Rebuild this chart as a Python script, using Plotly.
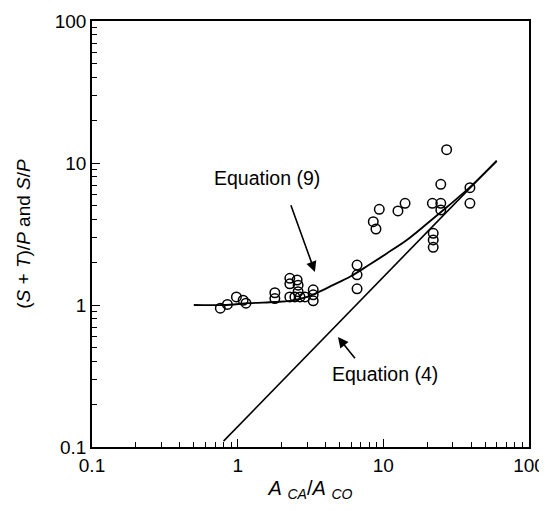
import math
import plotly.graph_objects as go

# Observed data (open circles)
x_obs = [0.76, 0.85, 0.98, 1.09, 1.14, 1.80, 1.80, 2.28, 2.28, 2.56, 2.60, 2.60,
         2.28, 2.47, 2.68, 2.90, 3.30, 3.30, 3.30, 6.6, 6.6, 6.6, 8.53, 8.9, 9.38,
         12.6, 14.1, 21.7, 24.8, 24.8, 24.8, 27.2, 22.0, 22.0, 22.0, 39.3, 39.3]
y_obs = [0.95, 1.01, 1.14, 1.08, 1.03, 1.22, 1.11, 1.54, 1.41, 1.50, 1.38, 1.24,
         1.14, 1.14, 1.14, 1.14, 1.28, 1.18, 1.07, 1.91, 1.63, 1.30, 3.86, 3.43, 4.72,
         4.6, 5.2, 5.2, 5.2, 4.67, 7.08, 12.4, 3.2, 2.87, 2.55, 6.7, 5.2]

# Equation (9) curve
x_eq9 = [0.5, 0.8, 1.2, 1.8, 2.3, 3.0, 3.5, 4.5, 5.9, 8.0, 10.5, 14.5, 20.0, 28.0, 39.0, 60.0]
y_eq9 = [1.0, 1.0, 1.03, 1.05, 1.07, 1.14, 1.22, 1.38, 1.58, 1.92, 2.3, 2.87, 3.75, 5.0, 6.7, 10.3]

# Equation (4) straight line endpoints
x_eq4 = [0.8, 60.0]
y_eq4 = [0.11, 10.4]

tick_vals = [0.1, 1, 10, 100]
tick_text = ["0.1", "1", "10", "100"]

FONT = "Arial, Liberation Sans, sans-serif"

fig = go.Figure()
fig.add_trace(go.Scatter(x=x_eq9, y=y_eq9, mode="lines",
                         line=dict(color="black", width=1.8, shape="spline"),
                         showlegend=False))
fig.add_trace(go.Scatter(x=x_eq4, y=y_eq4, mode="lines",
                         line=dict(color="black", width=1.6),
                         showlegend=False))
fig.add_trace(go.Scatter(x=x_obs, y=y_obs, mode="markers",
                         marker=dict(symbol="circle-open", size=9.5,
                                     color="black", line=dict(width=1.5, color="black")),
                         showlegend=False))

fig.add_annotation(x=math.log10(3.39), y=math.log10(1.71), xref="x", yref="y",
                   ax=-27, ay=-75, showarrow=True, arrowhead=2, arrowsize=1.3,
                   arrowwidth=1.6, arrowcolor="black", text=" ")
fig.add_annotation(x=math.log10(1.58), y=math.log10(7.9), xref="x", yref="y",
                   text="Equation (9)", showarrow=False,
                   font=dict(family=FONT, size=19.5, color="black"))
fig.add_annotation(x=math.log10(4.88), y=math.log10(0.595), xref="x", yref="y",
                   ax=20, ay=25, showarrow=True, arrowhead=2, arrowsize=1.3,
                   arrowwidth=1.6, arrowcolor="black", text=" ")
fig.add_annotation(x=math.log10(10.3), y=math.log10(0.327), xref="x", yref="y",
                   text="Equation (4)", showarrow=False,
                   font=dict(family=FONT, size=19.5, color="black"))

axis_common = dict(type="log", range=[-1, 2], showgrid=False, zeroline=False,
                   automargin=False,
                   showline=True, linecolor="black", linewidth=1.5, mirror=True,
                   ticks="inside", ticklen=8, tickwidth=1.3, tickcolor="black",
                   tickvals=tick_vals, ticktext=tick_text,
                   minor=dict(ticks="inside", ticklen=5, tickwidth=1.2, tickcolor="black",
                              dtick="D1", showgrid=False),
                   tickfont=dict(family=FONT, size=19, color="black"))

fig.update_xaxes(**axis_common,
                 title=dict(text="<i>A</i> <sub><i>CA</i></sub>/<i>A</i> <sub><i>CO</i></sub>",
                            font=dict(family=FONT, size=20, color="black"), standoff=6))
fig.update_yaxes(**axis_common,
                 title=dict(text="(<i>S</i> + <i>T</i>)/<i>P</i> and <i>S</i>/<i>P</i>",
                            font=dict(family=FONT, size=19, color="black"), standoff=19))

fig.update_layout(width=547, height=511,
                  margin=dict(l=84, r=26, t=13, b=72, autoexpand=False),
                  plot_bgcolor="white", paper_bgcolor="white",
                  font=dict(family=FONT, color="black"))

fig.write_html("out.html")
